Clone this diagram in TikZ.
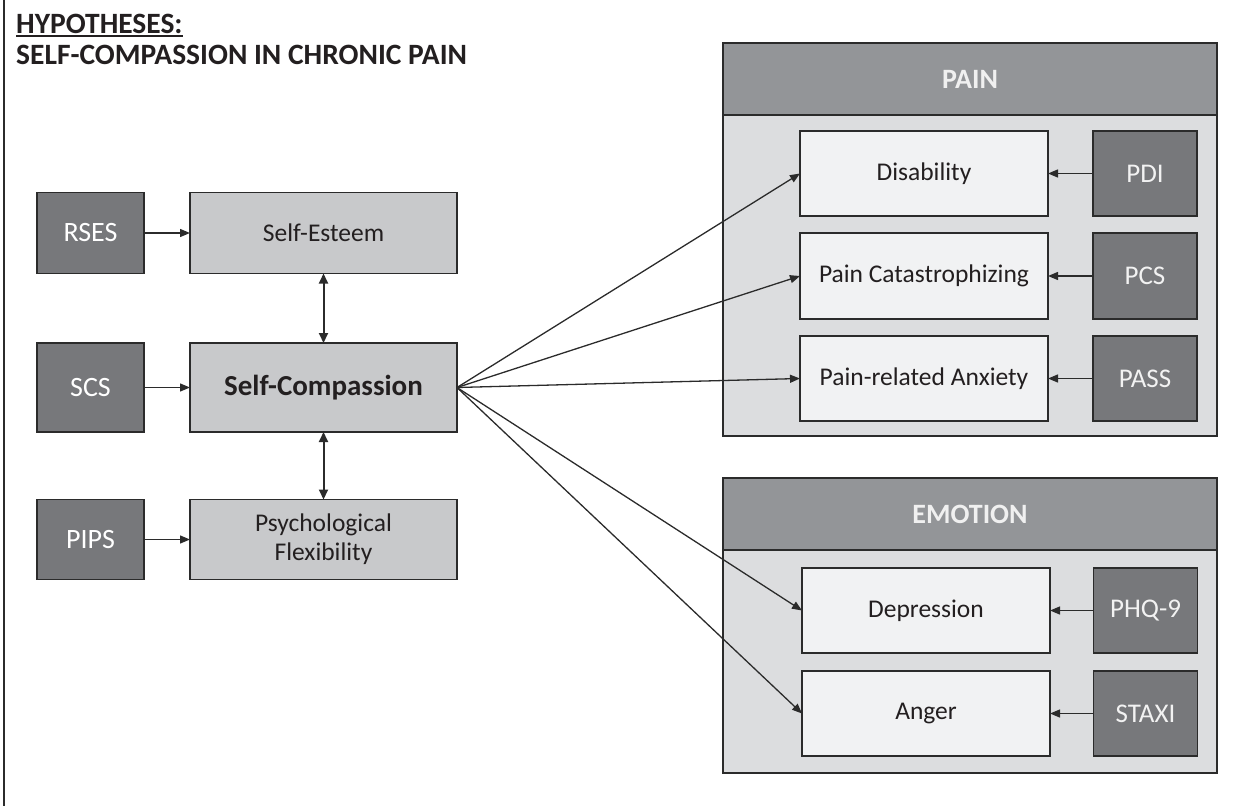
\documentclass[tikz,border=0pt]{standalone}
\usepackage{fontspec}
\setmainfont{Carlito}
\usetikzlibrary{arrows.meta}
\definecolor{darkbox}{HTML}{77787B}
\definecolor{midbox}{HTML}{C8C9CB}
\definecolor{hdrbox}{HTML}{939598}
\definecolor{panelbg}{HTML}{DCDDDF}
\definecolor{lightbox}{HTML}{F1F2F3}
\definecolor{edge}{HTML}{2B2B2B}
\definecolor{txt}{HTML}{231F20}
\tikzset{
  base/.style={draw=edge, line width=1.3pt, inner sep=0pt, outer sep=0pt, align=center},
  darkb/.style={base, fill=darkbox, text=white, font=\fontsize{28}{32}\selectfont, minimum width=107pt, minimum height=81pt},
  midb/.style={base, fill=midbox, text=txt, font=\fontsize{25.5}{30}\selectfont, minimum width=267pt, minimum height=81pt},
  lightb/.style={base, fill=lightbox, text=txt, font=\fontsize{25.5}{30}\selectfont, minimum width=248pt, minimum height=85pt},
  measb/.style={base, fill=darkbox, text=white!95!black, font=\fontsize{27}{32}\selectfont, minimum width=104pt, minimum height=85pt},
  panelb/.style={base, fill=panelbg, minimum width=494pt},
  hdrb/.style={base, fill=hdrbox, text=white!94!black, font=\bfseries\fontsize{28}{32}\selectfont, minimum width=494pt},
  arr/.style={draw=edge, line width=1.3pt, -{Triangle[length=10pt,width=8pt]}},
  darr/.style={draw=edge, line width=2pt, {Triangle[length=10pt,width=9pt]}-{Triangle[length=10pt,width=9pt]}},
  ttl/.style={anchor=base west, inner sep=0pt, text=txt, font=\bfseries\fontsize{29.5}{34}\selectfont}
}
\begin{document}
\begin{tikzpicture}[x=1pt,y=-1pt]
\useasboundingbox (0,0) rectangle (1258,806);
\coordinate (ftop) at (4,0);
\coordinate (fbot) at (4,806);
\draw[edge, line width=2pt] (ftop) -- (fbot);

% title
\node[ttl] (t1) at (16,33) {HYPOTHESES:};
\draw[txt, line width=1.8pt] ([yshift=-3pt]t1.base west) -- ([yshift=-3pt]t1.base east);
\node[ttl] (t2) at (16,64) {SELF-COMPASSION IN CHRONIC PAIN};

% left column
\node[darkb] (rses) at (90.5,233) {RSES};
\node[midb] (se) at (323.5,233) {Self-Esteem};
\node[darkb, minimum height=89pt] (scs) at (90.5,387.5) {SCS};
\node[midb, minimum height=89pt, font=\bfseries\fontsize{29}{34}\selectfont] (sc) at (323.5,387.5) {Self-Compassion};
\node[darkb, minimum height=80pt] (pips) at (90.5,539.5) {PIPS};
\node[midb, minimum height=80pt, font=\fontsize{25.5}{29}\selectfont] (pf) at (323.5,539.5) {Psychological\\Flexibility};

\draw[arr] (rses) -- (se);
\draw[arr] (scs) -- (sc);
\draw[arr] (pips) -- (pf);
\draw[darr] (se) -- (sc);
\draw[darr] (sc) -- (pf);

% PAIN panel
\node[panelb, minimum height=393pt] (painp) at (970,239.5) {};
\node[hdrb, minimum height=72pt] (painh) at (970,79) {PAIN};
\node[lightb] (dis) at (924,173.5) {Disability};
\node[measb] (pdi) at (1145,173.5) {PDI};
\node[lightb, minimum height=86pt] (pcat) at (924,276) {Pain Catastrophizing};
\node[measb, minimum height=86pt] (pcs) at (1145,276) {PCS};
\node[lightb] (panx) at (924,378.5) {Pain-related Anxiety};
\node[measb] (pass) at (1145,378.5) {PASS};

% EMOTION panel
\node[panelb, minimum height=295pt] (emop) at (970,625.5) {};
\node[hdrb, minimum height=72pt] (emoh) at (970,514) {EMOTION};
\node[lightb] (dep) at (926,610.5) {Depression};
\node[measb, minimum height=85pt] (phq) at (1145.5,610.5) {PHQ-9};
\node[lightb] (ang) at (926,713.5) {Anger};
\node[measb] (staxi) at (1145.5,713.5) {STAXI};

\draw[arr] (pdi) -- (dis);
\draw[arr] (pcs) -- (pcat);
\draw[arr] (pass) -- (panx);
\draw[arr] (phq) -- (dep);
\draw[arr] (staxi) -- (ang);

\draw[arr] (sc.east) -- (dis.west);
\draw[arr] (sc.east) -- (pcat.west);
\draw[arr] (sc.east) -- (panx.west);
\draw[arr] (sc.east) -- (dep.west);
\draw[arr] (sc.east) -- (ang.west);
\end{tikzpicture}
\end{document}
